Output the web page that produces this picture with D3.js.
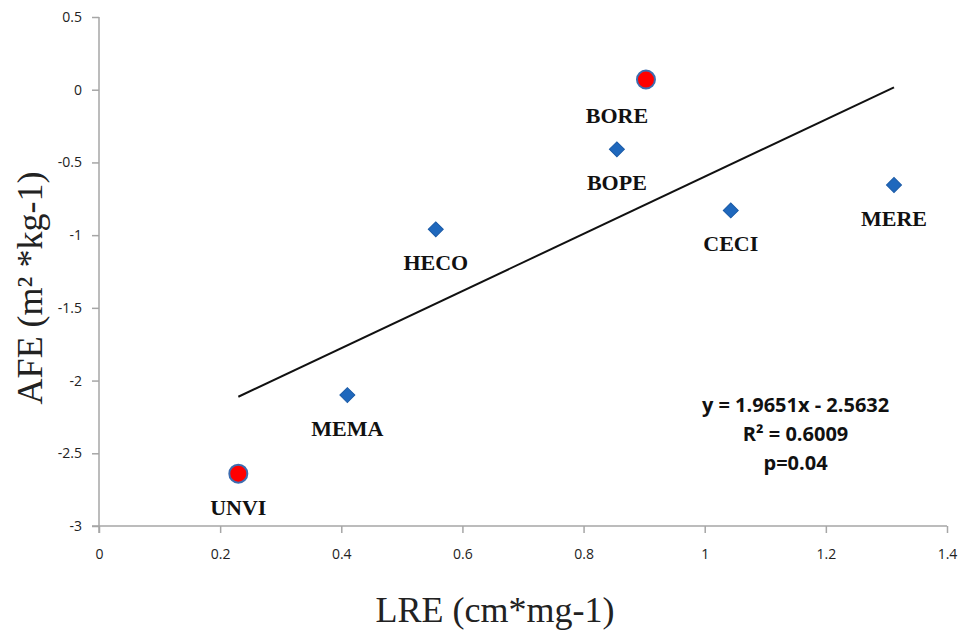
<!DOCTYPE html>
<html>
<head>
<meta charset="utf-8">
<script src="https://cdn.jsdelivr.net/npm/d3@7"></script>
<style>
  body { margin: 0; background: #fff; }
  .tick text { font-family: "Open Sans", sans-serif; font-size: 14px; fill: #222; }
  .ptLabel { font-family: "Liberation Serif", serif; font-weight: bold; font-size: 22px; fill: #111; }
  .axisTitle { font-family: "Liberation Serif", serif; font-size: 36px; fill: #222; }
  .eq { font-family: "Open Sans", sans-serif; font-weight: bold; font-size: 20px; fill: #111; }
</style>
</head>
<body>
<div id="chart"></div>
<script>
// Data
var species = ["UNVI", "MEMA", "HECO", "BOPE", "BORE", "CECI", "MERE"];
var lre = [0.23, 0.41, 0.556, 0.855, 0.903, 1.043, 1.3125];
var afe = [-2.64, -2.10, -0.96, -0.41, 0.07, -0.83, -0.655];
var highlighted = ["UNVI", "BORE"];

var xTicks = [0, 0.2, 0.4, 0.6, 0.8, 1, 1.2, 1.4];
var yTicks = [0.5, 0, -0.5, -1, -1.5, -2, -2.5, -3];

var slope = 1.9651, intercept = -2.5632;
var eqLines = ["y = 1.9651x - 2.5632", "R² = 0.6009", "p=0.04"];

// label offsets relative to each point (dx, dy)
var labelShift = { BORE: [-29, 43] };

var svgWidth = 960, svgHeight = 637;
var margin = { top: 17, right: 13, bottom: 111, left: 99 };
var width = svgWidth - margin.left - margin.right;
var height = svgHeight - margin.top - margin.bottom;

var svg = d3.select("#chart").append("svg")
  .attr("width", svgWidth)
  .attr("height", svgHeight);

var chartGroup = svg.append("g")
  .attr("transform", `translate(${margin.left}, ${margin.top})`);

var x = d3.scaleLinear().domain([0, 1.4]).range([0, 848]);
var y = d3.scaleLinear().domain([-3, 0.5]).range([height, 0]);

var points = species.map(function(s, i) {
  return { name: s, x: lre[i], y: afe[i], hi: highlighted.indexOf(s) >= 0 };
});

// axes (plain hyphen for negatives, as in the original)
var fmt = d => String(d);
var xAxis = chartGroup.append("g")
  .attr("transform", `translate(0, ${height})`)
  .call(d3.axisBottom(x).tickValues(xTicks).tickSize(7).tickPadding(16).tickFormat(fmt));
var yAxis = chartGroup.append("g")
  .call(d3.axisLeft(y).tickValues(yTicks).tickSize(7).tickPadding(10).tickFormat(fmt));

[xAxis, yAxis].forEach(function(a) {
  a.select(".domain").remove();
  a.selectAll(".tick line").attr("stroke", "#a6a6a6").attr("stroke-width", 1.5);
});
// axis lines reaching past the corner like Excel does
chartGroup.append("line")
  .attr("x1", -7).attr("x2", x(1.4))
  .attr("y1", height).attr("y2", height)
  .attr("stroke", "#a6a6a6").attr("stroke-width", 1.5);
chartGroup.append("line")
  .attr("x1", 0).attr("x2", 0)
  .attr("y1", 0).attr("y2", height + 7)
  .attr("stroke", "#a6a6a6").attr("stroke-width", 1.5);

// trend line over the data range
var xmin = d3.min(lre), xmax = d3.max(lre);
chartGroup.append("line")
  .attr("x1", x(xmin)).attr("y1", y(slope * xmin + intercept))
  .attr("x2", x(xmax)).attr("y2", y(slope * xmax + intercept))
  .attr("stroke", "#111").attr("stroke-width", 2);

// markers
chartGroup.selectAll("path.diamond")
  .data(points.filter(d => !d.hi))
  .enter().append("path")
  .attr("class", "diamond")
  .attr("d", d3.symbol().type(d3.symbolSquare).size(112))
  .attr("transform", d => `translate(${x(d.x)}, ${y(d.y)}) rotate(45)`)
  .attr("fill", "#1f68bd")
  .attr("stroke", "#1a5aa6")
  .attr("stroke-width", 1);

chartGroup.selectAll("circle.hi")
  .data(points.filter(d => d.hi))
  .enter().append("circle")
  .attr("class", "hi")
  .attr("cx", d => x(d.x))
  .attr("cy", d => y(d.y))
  .attr("r", 9)
  .attr("fill", "#ff0000")
  .attr("stroke", "#3d6cb0")
  .attr("stroke-width", 2);

// point labels
chartGroup.selectAll("text.ptLabel")
  .data(points)
  .enter().append("text")
  .attr("class", "ptLabel")
  .attr("text-anchor", "middle")
  .attr("x", d => x(d.x) + (labelShift[d.name] ? labelShift[d.name][0] : 0))
  .attr("y", d => y(d.y) + (labelShift[d.name] ? labelShift[d.name][1] : 41))
  .text(d => d.name);

// regression text
chartGroup.selectAll("text.eq")
  .data(eqLines)
  .enter().append("text")
  .attr("class", "eq")
  .attr("text-anchor", "middle")
  .attr("x", x(1.15))
  .attr("y", (d, i) => y(-2.215) + i * 29)
  .text(d => d);

// axis titles
svg.append("text")
  .attr("class", "axisTitle")
  .attr("text-anchor", "middle")
  .attr("transform", "translate(42, 288) rotate(-90)")
  .text("AFE (m² *kg-1)");

svg.append("text")
  .attr("class", "axisTitle")
  .attr("text-anchor", "middle")
  .attr("x", 495)
  .attr("y", 622)
  .text("LRE (cm*mg-1)");
</script>
</body>
</html>
